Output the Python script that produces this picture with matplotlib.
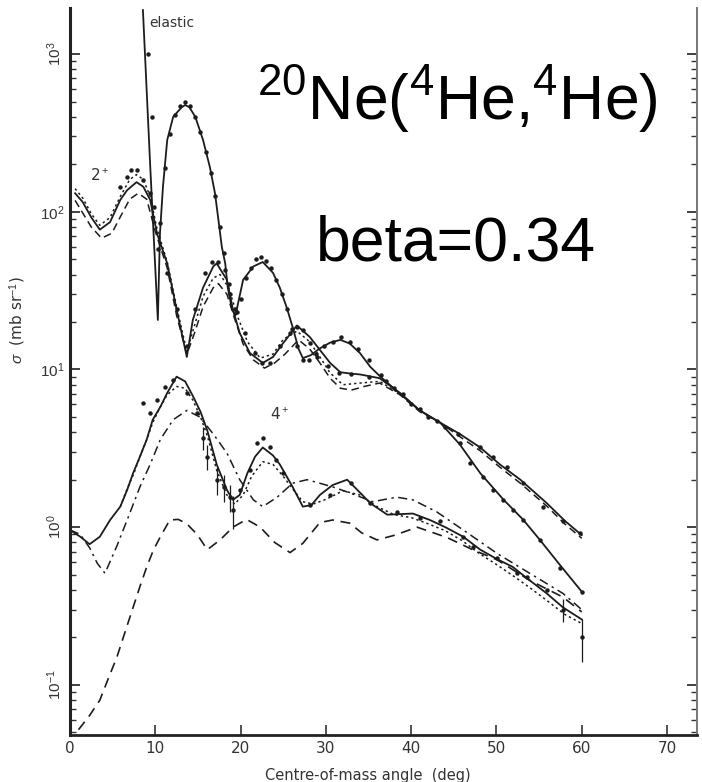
import matplotlib
matplotlib.use("Agg")
import matplotlib.pyplot as plt
import numpy as np

plt.rcParams["font.family"] = ["DejaVu Sans"]
plt.rcParams["mathtext.fontset"] = "custom"
plt.rcParams["mathtext.rm"] = "Liberation Sans"
plt.rcParams["mathtext.it"] = "Liberation Sans:italic"

INK = "#1c1c1c"

# --- elastic: optical-model curve and measured points ---
el_deg = [8.55, 9.4, 10.3, 10.55, 10.9, 11.4, 12.1, 13.1, 13.5, 14.0, 14.7, 15.6, 16.4, 17.0,
          17.4, 17.8, 18.2, 18.5, 19.0, 19.4, 20.3, 21.5, 22.6, 23.8, 24.6, 25.4, 26.1, 26.8,
          27.3, 28.2, 29.3, 30.5, 31.7, 32.8, 34.0, 35.2, 36.3, 38.7, 41.0, 43.4, 45.7, 48.1,
          50.8, 53.1, 55.1, 57.4, 60.0]
el_sig = [1900, 198, 20.6, 73, 144, 285, 400, 460, 475, 460, 399, 285, 192, 131,
          89, 60, 47, 33, 24, 22, 37, 45, 48, 41, 33, 24.8, 18.6, 13.5,
          11.8, 12.3, 13.6, 14.8, 15.4, 14.6, 12.7, 10.4, 9.1, 7.0, 5.5, 4.6, 3.35, 2.2,
          1.5, 1.12, 0.83, 0.58, 0.39]

el_pt_deg = [9.2, 9.6, 10.6, 11.1, 11.7, 12.3, 12.9, 13.5, 14.1, 14.7, 15.3, 15.9, 16.5, 17.0,
             17.6, 18.1, 18.7, 19.3, 20.0, 20.6, 21.2, 21.8, 22.4, 23.0, 23.6, 24.2, 24.8, 25.4,
             26.0, 26.6, 27.3, 28.0, 28.8, 29.8, 30.8, 31.8, 32.8, 33.8, 35.0, 36.5, 38.0, 40.0,
             42.0, 44.0, 45.7, 46.9, 48.4, 49.6, 50.8, 51.9, 53.1, 55.1, 57.4, 60.0]
el_pt_sig = [1000, 400, 85, 190, 310, 410, 470, 500, 470, 400, 320, 240, 175, 125,
             80, 55, 35, 24, 28, 38, 44, 50, 52, 49, 44, 37, 30, 24,
             18, 14, 11.5, 11.5, 12.5, 14, 15, 16, 15, 13.5, 11.5, 9.2, 7.6, 6.0,
             5.0, 4.3, 3.4, 2.55, 2.08, 1.72, 1.49, 1.28, 1.11, 0.83, 0.55, 0.39]

# --- 2+ state: three coupled-channel calculations and data ---
in_deg = [0.6, 1.5, 2.5, 3.5, 4.7, 5.9, 6.7, 7.8, 8.6, 9.4, 10.2, 11.4, 12.5, 13.7, 14.4,
          15.6, 16.8, 17.2, 18.4, 19.1, 19.9, 21.1, 22.6, 23.8, 25.0, 26.6, 28.1, 29.3, 30.5,
          31.7, 33.0, 34.0, 36.3, 38.7, 41.0, 43.4, 45.7, 48.1, 50.4, 52.8, 55.9, 58.0, 60.0]
in_sig = [131, 115, 92, 77, 86, 119, 137, 154, 144, 119, 73, 47, 24, 12, 20.6,
          33, 45, 47, 37, 24, 17, 12.7, 11, 12, 14.7, 19, 16.1, 13.3, 11.0,
          9.6, 9.4, 9.3, 8.8, 7.1, 5.5, 4.6, 3.9, 3.2, 2.5, 2.0, 1.42, 1.1, 0.89]

in_dash_deg = [0.6, 1.5, 2.5, 3.7, 4.9, 6.0, 7.0, 8.0, 9.0, 10.0, 11.4, 12.5, 13.7, 14.6,
               15.6, 16.8, 17.4, 18.4, 19.3, 20.3, 21.5, 22.8, 24.0, 25.2, 26.8, 28.1, 29.3,
               30.5, 31.7, 33.0, 34.5, 36.3, 38.7, 41.0, 43.4, 45.7, 48.1, 50.4, 52.8, 55.9,
               58.0, 60.0]
in_dash_sig = [118, 98, 80, 68, 73, 95, 120, 131, 120, 75, 44, 22, 12.5, 17,
               25, 33, 35, 30, 21, 14.5, 11.5, 10.2, 11, 12.5, 15.4, 13.5, 11,
               8.8, 7.6, 7.4, 7.8, 8.2, 6.9, 5.4, 4.6, 3.75, 3.05, 2.4, 1.9, 1.36,
               1.05, 0.85]

in_dot_deg = [0.6, 1.5, 2.5, 3.5, 4.7, 5.9, 7.0, 7.8, 8.6, 9.4, 10.2, 11.4, 12.5, 13.7, 14.6,
              15.6, 16.8, 17.6, 18.6, 19.6, 20.8, 22.3, 23.8, 25.0, 26.6, 28.1, 29.3, 30.5,
              32.0, 34.0, 36.3, 38.7, 41.0]
in_dot_sig = [140, 122, 97, 82, 92, 125, 160, 172, 160, 125, 78, 48, 25, 13, 19,
              29, 38, 40, 33, 22, 15, 11.8, 12.5, 15.5, 17.5, 15, 12, 9.5,
              8.0, 8.2, 8.4, 7.0, 5.5]

in_pt_deg = [5.9, 6.7, 7.2, 7.8, 8.6, 9.4, 9.8, 10.3, 11.4, 12.5, 13.7, 14.7, 15.8, 16.6, 17.4,
             18.2, 18.8, 19.6, 20.5, 21.7, 22.5, 23.4, 24.6, 25.8, 26.6, 27.3, 28.1, 29.0,
             30.2, 31.5, 33.0, 35.0, 37.0, 39.0, 41.0, 43.0, 45.5, 48.1, 49.6, 51.2, 53.1,
             55.5, 57.8, 59.8]
in_pt_sig = [143, 166, 184, 184, 159, 131, 107, 58, 41, 24, 14, 24, 41, 48, 48,
             43, 30, 23, 17, 12.7, 11, 11, 14, 17, 18.6, 17.8, 14.7, 12.0,
             10.5, 9.5, 9.3, 9.0, 8.5, 7.0, 5.6, 4.7, 3.9, 3.2, 2.8, 2.4, 1.9,
             1.35, 1.1, 0.92]

# --- 4+ state ---
f_deg = [0, 1.2, 2.3, 3.5, 4.7, 5.9, 6.7, 7.4, 8.2, 9.0, 9.7, 10.6, 11.4, 12.5, 13.5, 14.4,
         15.3, 16.1, 17.2, 18.4, 19.1, 19.9, 20.8, 21.7, 22.6, 23.8, 24.6, 25.4, 26.1, 27.3,
         28.3, 29.3, 30.8, 32.5, 33.8, 35.2, 37.2, 40.2, 42.2, 44.0, 46.1, 48.1, 50.0, 51.9,
         53.9, 55.9, 57.8, 60.0]
f_sig = [0.96, 0.87, 0.78, 0.87, 1.11, 1.35, 1.72, 2.2, 2.8, 3.6, 4.8, 5.8, 7.1, 9.0, 8.4, 6.8,
         5.4, 4.1, 2.5, 1.72, 1.49, 1.6, 2.2, 2.8, 3.2, 2.85, 2.5, 2.1, 1.8, 1.35,
         1.38, 1.6, 1.85, 2.0, 1.7, 1.42, 1.2, 1.22, 1.11, 1.0, 0.87, 0.72, 0.63, 0.56,
         0.46, 0.38, 0.31, 0.26]

f_dash_deg = [5.9, 6.7, 7.5, 8.2, 9.0, 9.7, 10.6, 11.4, 12.5, 13.5, 14.4, 15.3, 16.1, 17.2,
              18.4, 19.3, 20.3, 21.3, 22.6, 23.8, 25.0, 26.1, 27.3, 28.5, 30.0, 32.0, 34.0,
              36.0, 38.0, 40.0, 42.0, 44.0, 46.0, 48.0, 50.0, 52.0, 54.0, 56.0, 58.0, 60.0]
f_dash_sig = [1.35, 1.75, 2.2, 2.8, 3.6, 4.6, 5.8, 6.9, 7.8, 7.6, 6.4, 5.0, 3.8, 2.3,
              1.6, 1.4, 1.6, 2.1, 2.6, 2.5, 2.1, 1.75, 1.45, 1.4, 1.5, 1.7, 1.6,
              1.35, 1.2, 1.15, 1.05, 0.95, 0.82, 0.68, 0.58, 0.49, 0.41, 0.34, 0.28, 0.245]

f_dd_deg = [0, 1.2, 2.3, 3.2, 4.1, 5.5, 6.7, 8.2, 9.4, 10.6, 12.1, 13.7, 15.2, 16.8, 18.4,
            19.9, 21.5, 22.6, 24.3, 26.1, 27.8, 30.8, 32.8, 35.5, 38.3, 40.2, 43.0, 46.1,
            50.1, 53.9, 57.8, 60.0]
f_dd_sig = [0.96, 0.90, 0.74, 0.59, 0.51, 0.76, 1.11, 1.8, 2.5, 3.6, 4.8, 5.5, 5.0, 3.9, 2.95,
            2.0, 1.49, 1.35, 1.55, 1.9, 2.0, 1.8, 1.65, 1.45, 1.55, 1.49, 1.25, 0.96,
            0.68, 0.51, 0.38, 0.30]

f_low_deg = [1.0, 2.3, 3.5, 4.5, 5.5, 6.5, 7.4, 8.2, 9.0, 9.8, 10.6, 11.7, 12.7, 13.7, 14.9,
             16.1, 17.6, 19.1, 20.7, 22.3, 24.0, 25.8, 27.3, 29.3, 30.8, 32.8, 34.2, 36.0,
             38.1, 40.7, 44.2, 47.2, 50.1, 53.9, 57.8, 60.0]
f_low_sig = [0.052, 0.064, 0.080, 0.11, 0.15, 0.22, 0.31, 0.42, 0.56, 0.72, 0.87, 1.11, 1.12,
             1.05, 0.9, 0.72, 0.83, 1.0, 1.12, 1.0, 0.8, 0.69, 0.79, 1.07, 1.11, 1.06, 0.92,
             0.83, 0.89, 1.0, 0.86, 0.72, 0.62, 0.46, 0.36, 0.29]

f_pt_deg = [8.6, 9.4, 10.2, 11.1, 12.1, 13.7, 14.9, 15.6, 16.1, 17.2, 18.0, 18.8, 19.1, 19.9,
            21.1, 21.9, 22.6, 23.4, 24.2, 25.0, 28.1, 30.5, 33.0, 35.2, 38.3, 41.0, 43.4,
            46.1, 47.2, 50.1, 52.4, 53.6, 55.9, 57.8, 60.0]
f_pt_sig = [6.1, 5.3, 6.4, 7.7, 8.6, 7.1, 5.3, 3.7, 2.8, 2.0, 1.8, 1.55, 1.28, 1.72,
            2.3, 3.4, 3.7, 3.2, 2.66, 2.2, 1.38, 1.6, 1.9, 1.42, 1.24, 1.15, 1.1,
            0.87, 0.75, 0.64, 0.51, 0.48, 0.40, 0.30, 0.20]
f_pt_err = [0, 0, 0, 0, 0, 0, 0, 0.6, 0.5, 0.4, 0.35, 0.3, 0.3, 0,
            0, 0, 0, 0, 0, 0, 0, 0, 0, 0, 0, 0, 0,
            0, 0, 0, 0, 0, 0, 0.05, 0.06]

y_ticks = [0.1, 1, 10, 100, 1000]
y_ticklabels = [r"$10^{-1}$", r"$10^{0}$", r"$10^{1}$", r"$10^{2}$", r"$10^{3}$"]
y_rotated = [True, True, False, False, True]
x_ticks = [0, 10, 20, 30, 40, 50, 60, 70]


def main():
    fig = plt.figure(figsize=(7.02, 7.82), dpi=100)
    ax = fig.add_axes([0.0997, 0.0601, 0.893, 0.9297])
    ax.set_yscale("log")
    ax.set_xlim(0, 73.5)
    ax.set_ylim(0.0481, 1959)

    lw = 1.3
    # calculated curves
    ax.plot(el_deg, el_sig, color=INK, lw=lw)
    ax.plot(in_deg, in_sig, color=INK, lw=lw)
    ax.plot(in_dash_deg, in_dash_sig, color=INK, lw=1.1, dashes=(5, 3))
    ax.plot(in_dot_deg, in_dot_sig, color=INK, lw=1.1, dashes=(1.5, 2))
    ax.plot(f_deg, f_sig, color=INK, lw=lw)
    ax.plot(f_dash_deg, f_dash_sig, color=INK, lw=1.1, dashes=(1.5, 2))
    ax.plot(f_dd_deg, f_dd_sig, color=INK, lw=1.1, dashes=(6, 3, 1.5, 3))
    ax.plot(f_low_deg, f_low_sig, color=INK, lw=1.2, dashes=(6, 4))

    # measured points
    ax.plot(el_pt_deg, el_pt_sig, "o", color=INK, ms=3.2, mew=0)
    ax.plot(in_pt_deg, in_pt_sig, "o", color=INK, ms=3.2, mew=0)
    ax.errorbar(f_pt_deg, f_pt_sig, yerr=f_pt_err, fmt="o", color=INK, ms=3.2, mew=0,
                elinewidth=0.9, capsize=0)

    # state labels
    ax.text(9.3, 1575, "elastic", fontsize=10, color="#333", va="center", ha="left")
    ax.text(2.3, 171, r"2$^+$", fontsize=11, color="#333", va="center", ha="left")
    ax.text(23.5, 5.2, r"4$^+$", fontsize=11, color="#333", va="center", ha="left")

    # axes styling
    ax.spines["top"].set_visible(False)
    ax.spines["left"].set_linewidth(2.2)
    ax.spines["bottom"].set_linewidth(2.0)
    ax.spines["right"].set_linewidth(1.4)
    ax.spines["right"].set_color("#777")
    for s in ("left", "bottom"):
        ax.spines[s].set_color("#222")

    ax.set_xticks(x_ticks)
    ax.set_xticklabels([str(t) for t in x_ticks])
    ax.set_yticks(y_ticks)
    ax.set_yticklabels(y_ticklabels)
    for lab, rot in zip(ax.get_yticklabels(), y_rotated):
        if rot:
            lab.set_rotation(90)
            lab.set_va("center")
    ax.tick_params(axis="both", which="both", direction="in", colors="#333")
    ax.tick_params(axis="y", which="major", length=7, width=1.3, labelsize=11, pad=4,
                   right=True)
    ax.tick_params(axis="y", which="minor", length=4, width=1.0, right=True)
    ax.tick_params(axis="x", which="major", length=7, width=1.2, labelsize=11, pad=4)
    ax.tick_params(axis="x", which="minor", bottom=False)

    ax.set_xlabel("Centre-of-mass angle  (deg)", fontsize=10.5, color="#333")
    ax.xaxis.set_label_coords(0.475, -0.045)
    ax.set_ylabel(r"$\sigma$  (mb sr$^{-1}$)", fontsize=11, color="#333")
    ax.yaxis.set_label_coords(-0.067, 0.57)

    # reaction and deformation annotations
    fig.text(0.366, 0.8465, r"$^{20}$Ne($^{4}$He,$^{4}$He)", fontsize=45,
             family=["Liberation Sans"], va="baseline", ha="left", color="black")
    fig.text(0.450, 0.6675, "beta=0.34", fontsize=45,
             family=["Liberation Sans"], va="baseline", ha="left", color="black")

    fig.savefig("out.png", dpi=100)
    plt.close(fig)


if __name__ == "__main__":
    main()
